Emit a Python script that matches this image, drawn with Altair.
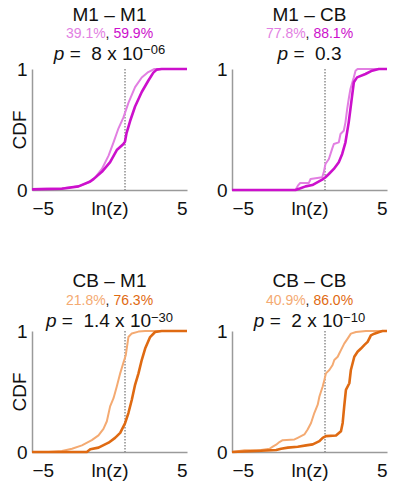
import altair as alt
import pandas as pd

FONT = "Liberation Sans"

# ---------------- data ----------------
panel_titles = ["M1 – M1", "M1 – CB", "CB – M1", "CB – CB"]
pct_light = ["39.1%", "77.8%", "21.8%", "40.9%"]
pct_dark = ["59.9%", "88.1%", "76.3%", "86.0%"]
p_mantissa = ["8 x 10", "0.3", "1.4 x 10", "2 x 10"]
p_exponent = ["−06", "", "−30", "−10"]
threshold = 1.0

# empirical CDF traces, ln(z) vs cumulative fraction
m1m1_light_x = [-5, -3.07, -2.0, -1.35, -0.92, -0.49, -0.06, 0.26, 0.58, 0.9, 1.22, 1.65, 2.08, 2.5, 2.9, 5]
m1m1_light_y = [0.008, 0.014, 0.03, 0.063, 0.105, 0.174, 0.284, 0.394, 0.51, 0.6, 0.72, 0.85, 0.93, 0.975, 1.0, 1.0]
m1m1_dark_x = [-5, -3.07, -2.0, -1.24, -1.03, -0.49, 0.04, 0.47, 0.9, 1.0, 1.1, 1.33, 1.65, 2.08, 2.51, 2.83, 3.05, 3.37, 5]
m1m1_dark_y = [0.005, 0.01, 0.03, 0.07, 0.09, 0.15, 0.23, 0.33, 0.38, 0.40, 0.47, 0.57, 0.69, 0.81, 0.905, 0.97, 0.995, 1.0, 1.0]

m1cb_light_x = [-5, -0.9, -0.75, -0.6, -0.04, 0.07, 0.82, 0.92, 1.03, 1.25, 1.46, 1.57, 1.89, 2.0, 2.21, 2.32, 2.43, 2.53, 2.64, 2.86, 2.97, 3.1, 5]
m1cb_light_y = [0, 0, 0.036, 0.058, 0.058, 0.091, 0.105, 0.146, 0.215, 0.256, 0.34, 0.38, 0.394, 0.463, 0.49, 0.559, 0.669, 0.752, 0.835, 0.931, 0.986, 1.0, 1.0]
m1cb_dark_x = [-5, -0.9, -0.58, -0.25, 0.18, 0.5, 0.82, 1.03, 1.25, 1.57, 1.89, 2.11, 2.32, 2.53, 2.64, 2.75, 2.86, 3.07, 3.61, 4.04, 4.47, 5]
m1cb_dark_y = [0, 0, 0.014, 0.03, 0.041, 0.063, 0.085, 0.105, 0.132, 0.174, 0.229, 0.298, 0.394, 0.559, 0.669, 0.78, 0.89, 0.931, 0.959, 0.986, 1.0, 1.0]

cbm1_light_x = [-5, -3.93, -3.07, -2.42, -1.78, -1.14, -0.71, -0.39, -0.17, 0.04, 0.26, 0.47, 0.69, 0.9, 1.05, 1.22, 1.44, 1.87, 2.3, 5]
cbm1_light_y = [0, 0, 0.008, 0.027, 0.055, 0.098, 0.137, 0.191, 0.254, 0.377, 0.445, 0.541, 0.65, 0.74, 0.80, 0.95, 0.98, 0.995, 1.0, 1.0]
cbm1_dark_x = [-5, -1.46, -1.24, -0.71, -0.06, 0.36, 0.69, 1.01, 1.22, 1.44, 1.65, 1.87, 2.08, 2.3, 2.62, 2.94, 3.37, 5]
cbm1_dark_y = [0, 0, 0.022, 0.036, 0.077, 0.117, 0.158, 0.24, 0.322, 0.432, 0.555, 0.65, 0.76, 0.855, 0.95, 0.992, 1.0, 1.0]

cbcb_light_x = [-5, -4.19, -3.12, -2.58, -2.37, -2.15, -1.94, -1.73, -0.97, -0.76, -0.33, -0.12, 0.1, 0.31, 0.53, 0.64, 0.85, 0.96, 1.06, 1.28, 1.49, 1.6, 1.82, 1.92, 2.03, 2.24, 2.46, 2.67, 3.0, 3.64, 5]
cbcb_light_y = [0, 0.014, 0.016, 0.027, 0.044, 0.06, 0.082, 0.098, 0.104, 0.117, 0.145, 0.186, 0.24, 0.322, 0.391, 0.459, 0.541, 0.596, 0.65, 0.678, 0.719, 0.76, 0.787, 0.814, 0.842, 0.896, 0.937, 0.978, 0.992, 1.0, 1.0]
cbcb_dark_x = [-5, -3.44, -2.15, -1.83, -1.4, -0.76, -0.22, 0.21, 0.64, 0.85, 1.06, 1.71, 2.03, 2.14, 2.24, 2.35, 2.57, 2.67, 2.89, 3.1, 3.32, 3.53, 3.75, 3.96, 4.18, 4.5, 4.71, 5]
cbcb_dark_y = [0, 0.008, 0.016, 0.027, 0.036, 0.044, 0.055, 0.063, 0.09, 0.117, 0.131, 0.137, 0.172, 0.24, 0.377, 0.514, 0.568, 0.678, 0.787, 0.828, 0.855, 0.883, 0.91, 0.964, 0.978, 0.992, 1.0, 1.0]

curves_light = [(m1m1_light_x, m1m1_light_y), (m1cb_light_x, m1cb_light_y),
                (cbm1_light_x, cbm1_light_y), (cbcb_light_x, cbcb_light_y)]
curves_dark = [(m1m1_dark_x, m1m1_dark_y), (m1cb_dark_x, m1cb_dark_y),
               (cbm1_dark_x, cbm1_dark_y), (cbcb_dark_x, cbcb_dark_y)]

# ---------------- styling ----------------
MAGENTA_LIGHT, MAGENTA_DARK = "#e27fe2", "#cc10cc"
ORANGE_LIGHT, ORANGE_DARK = "#f4aa72", "#df6a12"
light_colors = [MAGENTA_LIGHT, MAGENTA_LIGHT, ORANGE_LIGHT, ORANGE_LIGHT]
dark_colors = [MAGENTA_DARK, MAGENTA_DARK, ORANGE_DARK, ORANGE_DARK]

W, H = 155, 121
TEXT = "#111111"
AXIS = "#9a9a9a"
NBSP = "\u00a0"

# advance widths (em) for Liberation Sans, used to lay out mixed-style text
ADV = {c: 0.556 for c in "0123456789"}
ADV.update({".": 0.278, ",": 0.278, " ": 0.278, NBSP: 0.278, "%": 0.889,
            "x": 0.5, "=": 0.584, "−": 0.584, "p": 0.556})


def tw(s, size):
    return sum(ADV.get(c, 0.556) for c in s) * size


# header baselines relative to the top of the plot area (top row, bottom row)
HEAD_Y = [
    {"title": -48, "pct": -31.5, "p": -9.5, "sup": -15},
    {"title": -44.5, "pct": -26.5, "p": -4, "sup": -9.5},
]

xscale = alt.Scale(domain=[-5, 5], nice=False, zero=False)
yscale = alt.Scale(domain=[0, 1], nice=False)


def x_axis():
    return alt.Axis(values=[-5, 5], format="d", title="ln(z)", grid=False, ticks=False,
                    domainColor=AXIS, domainWidth=1.5, labelFontSize=19,
                    labelColor=TEXT, labelPadding=9, labelFont=FONT,
                    titleFont=FONT, titleFontSize=19, titleFontWeight="normal",
                    titleColor=TEXT, titleY=9, titleBaseline="top")


def y_axis(title):
    return alt.Axis(values=[0, 1], format="d", title=title, grid=False, ticks=False,
                    domainColor=AXIS, domainWidth=1.5, labelFontSize=19,
                    labelColor=TEXT, labelPadding=5, labelFont=FONT,
                    titleFont=FONT, titleFontSize=19, titleFontWeight="normal",
                    titleColor=TEXT, titleX=-12.5, titleBaseline="middle")


def text_layer(text, x, y, color, size, align="left", style="normal"):
    return alt.Chart(pd.DataFrame({"t": [text]})).mark_text(
        align=align, baseline="alphabetic", fontSize=size, font=FONT,
        fontStyle=style, color=color
    ).encode(x=alt.value(x), y=alt.value(y), text="t:N")


def panel(i):
    ytitle = "CDF" if i % 2 == 0 else ""
    hy = HEAD_Y[i // 2]
    layers = []

    rule_df = pd.DataFrame({"lnz": [threshold]})
    layers.append(alt.Chart(rule_df).mark_rule(
        color="#555555", strokeWidth=1, strokeDash=[1.5, 1.5]
    ).encode(x=alt.X("lnz:Q", scale=xscale, axis=x_axis())))

    for (xs, ys), col, sw in ((curves_light[i], light_colors[i], 2.0),
                              (curves_dark[i], dark_colors[i], 2.6)):
        df = pd.DataFrame({"lnz": xs, "cdf": ys, "k": list(range(len(xs)))})
        layers.append(alt.Chart(df).mark_line(
            color=col, strokeWidth=sw, strokeJoin="round"
        ).encode(
            x=alt.X("lnz:Q", scale=xscale, axis=x_axis()),
            y=alt.Y("cdf:Q", scale=yscale, axis=y_axis(ytitle)),
            order="k:Q",
        ))

    cx = W / 2
    # panel title
    layers.append(text_layer(panel_titles[i], cx, hy["title"], TEXT, 19, align="center"))

    # percentages line: light value, comma, dark value
    ps = 14
    wl, wc, ws, wd = tw(pct_light[i], ps), tw(",", ps), tw(" ", ps), tw(pct_dark[i], ps)
    x0 = cx - (wl + wc + ws + wd) / 2
    layers.append(text_layer(pct_light[i], x0, hy["pct"], light_colors[i], ps))
    layers.append(text_layer(",", x0 + wl, hy["pct"], TEXT, ps))
    layers.append(text_layer(pct_dark[i], x0 + wl + wc + ws, hy["pct"], dark_colors[i], ps))

    # p-value line with superscript exponent
    ms, ss = 19, 13
    main = "=" + NBSP + NBSP + p_mantissa[i]
    wp, wsp, wm = tw("p", ms), tw(" ", ms), tw(main, ms)
    we = tw(p_exponent[i], ss)
    x0 = cx - (wp + wsp + wm + we) / 2
    layers.append(text_layer("p", x0, hy["p"], TEXT, ms, style="italic"))
    layers.append(text_layer(main, x0 + wp + wsp, hy["p"], TEXT, ms))
    if p_exponent[i]:
        layers.append(text_layer(p_exponent[i], x0 + wp + wsp + wm, hy["sup"], TEXT, ss))

    return alt.layer(*layers).properties(width=W, height=H)


chart = alt.concat(
    *[panel(i) for i in range(4)],
    columns=2,
    spacing={"row": 141, "column": 45},
    bounds="flush",
).properties(
    padding={"left": 10, "top": 5, "right": 5, "bottom": 5}
).configure(font=FONT).configure_view(stroke="transparent")

chart.save("out.html", embed_options={"renderer": "svg", "actions": False})
